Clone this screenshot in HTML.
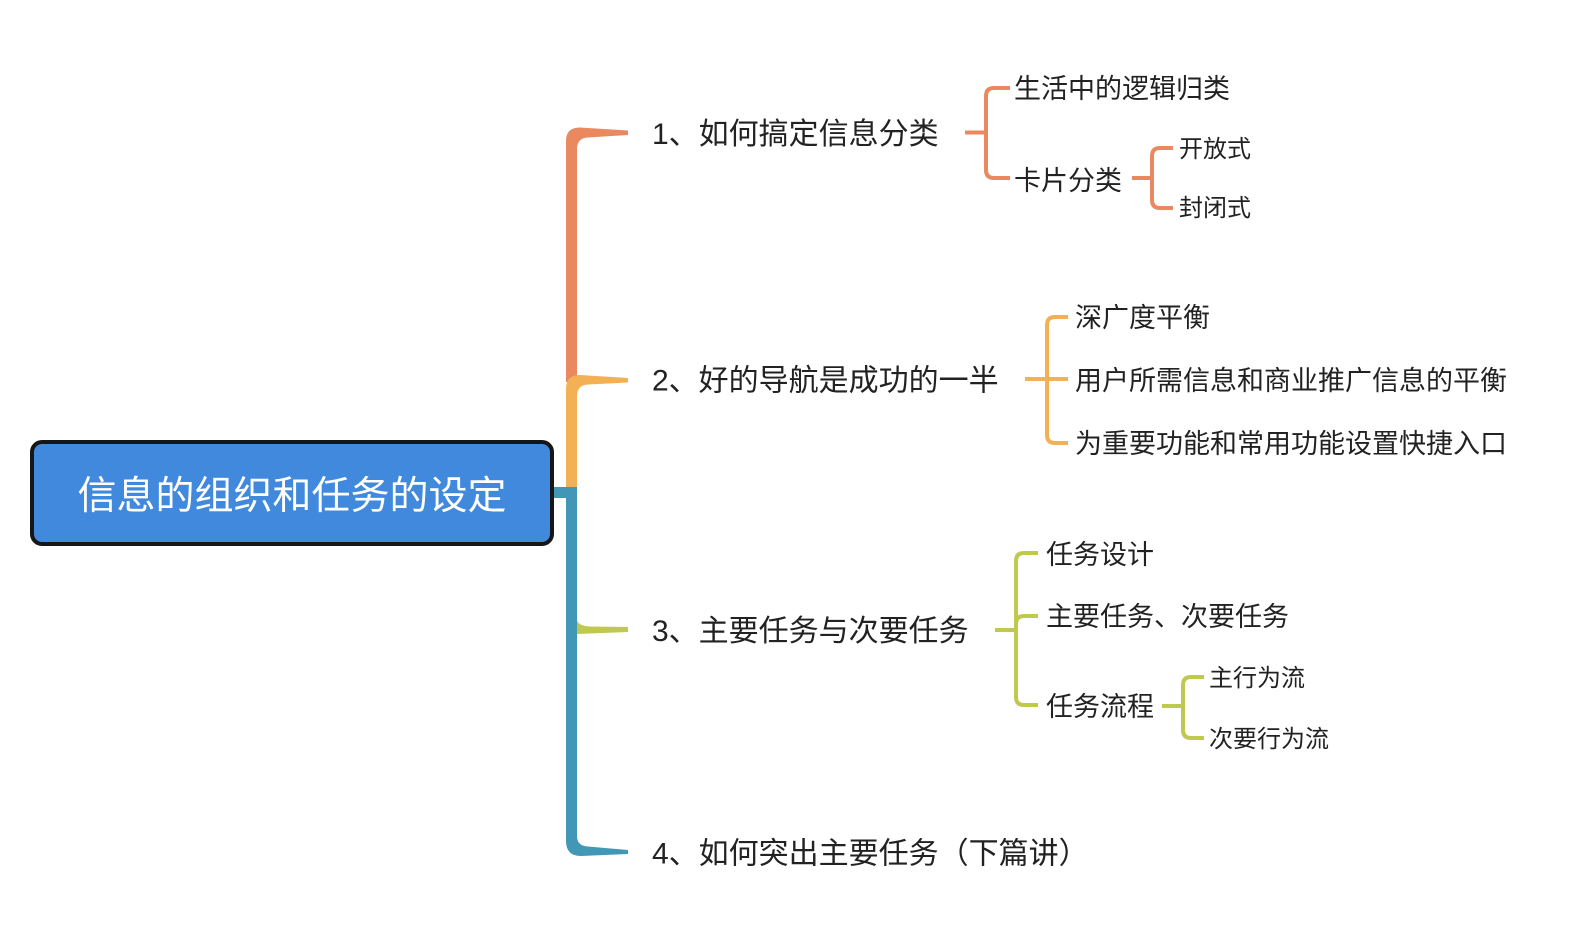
<!DOCTYPE html>
<html>
<head>
<meta charset="utf-8">
<style>
  html, body { margin: 0; padding: 0; background: #ffffff; }
  svg { display: block; }
  text { font-family: "Liberation Sans", "Noto Sans CJK SC", "WenQuanYi Zen Hei", sans-serif; fill: #222222; }
</style>
</head>
<body>
<svg width="1576" height="940" viewBox="0 0 1576 940" xmlns="http://www.w3.org/2000/svg">
  <rect x="0" y="0" width="1576" height="940" fill="#ffffff"/>

  <!-- Main trunk branches -->
  <!-- orange -->
  <path d="M566,382 V141 Q566,127.5 580,127.5 L628,130.5 V135 L588,137.5 Q577,138 577,149 V382 Z" fill="#EA8960"/>
  <!-- yellow -->
  <path d="M566,490 V389 Q566,375 580,375 L628,378 V382.5 L588,384.5 Q577,385 577,396 V490 Z" fill="#F4B054"/>
  <!-- teal stub from root -->
  <rect x="550" y="487" width="27" height="11" fill="#4397B6"/>
  <!-- teal trunk -->
  <path d="M566,487 H577 V836 Q577,846 588,846.5 L628,850 L628,854 L581,856 Q566,856 566,841 Z" fill="#4397B6"/>
  <!-- green -->
  <path d="M577,620.5 Q579,626 590,626.5 L628,627 L628,632 L577,634 Z" fill="#BEC94E"/>

  <!-- Root box -->
  <rect x="32" y="442" width="520" height="102" rx="10" ry="10" fill="#4089DD" stroke="#161616" stroke-width="4"/>
  <text x="292" y="509" text-anchor="middle" font-size="39" style="fill:#ffffff">信息的组织和任务的设定</text>

  <!-- Sub connectors -->
  <g fill="none" stroke-width="4" stroke-linecap="butt">
    <!-- orange -->
    <g stroke="#EA8960">
      <path d="M965,132.5 H986"/>
      <path d="M1010,88 H994 Q986,88 986,96 V170 Q986,178 994,178 H1010"/>
      <path d="M1132,178 H1152"/>
      <path d="M1173,148 H1160 Q1152,148 1152,156 V200 Q1152,208 1160,208 H1173"/>
    </g>
    <!-- yellow -->
    <g stroke="#F4B054">
      <path d="M1025,379 H1068"/>
      <path d="M1068,317 H1055 Q1047,317 1047,325 V435 Q1047,443 1055,443 H1068"/>
    </g>
    <!-- green -->
    <g stroke="#BEC94E">
      <path d="M995,630 H1016"/>
      <path d="M1038,553 H1024 Q1016,553 1016,561 V697 Q1016,705 1024,705 H1038"/>
      <path d="M1016,624 Q1016,616 1024,616 H1038"/>
      <path d="M1162,706 H1183"/>
      <path d="M1204,677 H1191 Q1183,677 1183,685 V730 Q1183,738 1191,738 H1204"/>
    </g>
  </g>

  <!-- Level 1 labels -->
  <g font-size="30">
    <text x="652" y="144">1、如何搞定信息分类</text>
    <text x="652" y="390.5">2、好的导航是成功的一半</text>
    <text x="652" y="641">3、主要任务与次要任务</text>
    <text x="652" y="863.5">4、如何突出主要任务（下篇讲）</text>
  </g>

  <!-- Level 2 labels -->
  <g font-size="27">
    <text x="1014" y="98">生活中的逻辑归类</text>
    <text x="1014" y="190">卡片分类</text>
    <text x="1075" y="327">深广度平衡</text>
    <text x="1075" y="390">用户所需信息和商业推广信息的平衡</text>
    <text x="1075" y="453">为重要功能和常用功能设置快捷入口</text>
    <text x="1046" y="564">任务设计</text>
    <text x="1046" y="626">主要任务、次要任务</text>
    <text x="1046" y="716">任务流程</text>
  </g>

  <!-- Level 3 labels -->
  <g font-size="24">
    <text x="1179" y="157">开放式</text>
    <text x="1179" y="216">封闭式</text>
    <text x="1209" y="686">主行为流</text>
    <text x="1209" y="747">次要行为流</text>
  </g>
</svg>
</body>
</html>
